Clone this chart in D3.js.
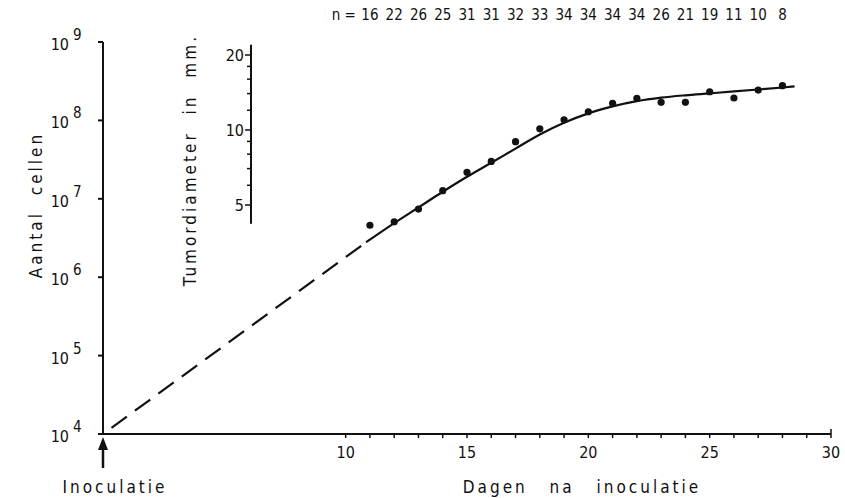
<!DOCTYPE html>
<html>
<head>
<meta charset="utf-8">
<script src="https://cdn.jsdelivr.net/npm/d3@7"></script>
<style>
body { margin: 0; background: #fff; }
svg text { font-family: "Liberation Sans Narrow", "DejaVu Sans Condensed", "Liberation Sans", sans-serif; fill: #111; }
</style>
</head>
<body>
<div id="chart"></div>
<script>
// measured tumour sizes, expressed as number of cells
const days = [11, 12, 13, 14, 15, 16, 17, 18, 19, 20, 21, 22, 23, 24, 25, 26, 27, 28];
const nValues = [16, 22, 26, 25, 31, 31, 32, 33, 34, 34, 34, 34, 26, 21, 19, 11, 10, 8];
const cellCounts = [4.6e6, 5.1e6, 7.4e6, 1.27e7, 2.18e7, 3.0e7, 5.35e7, 7.8e7, 1.02e8,
    1.29e8, 1.65e8, 1.91e8, 1.70e8, 1.70e8, 2.32e8, 1.93e8, 2.44e8, 2.77e8];

// fitted growth curve (solid part) and the extrapolated part (dashed)
const curveDays = [10.84, 12, 13, 14, 15, 16, 17, 18, 19, 20, 21, 22, 23, 24, 25, 26, 27, 28, 28.5];
const curveCells = [2.79e6, 4.9e6, 7.76e6, 1.23e7, 1.91e7, 2.88e7, 4.37e7, 6.61e7, 9.33e7,
    1.23e8, 1.51e8, 1.76e8, 1.95e8, 2.09e8, 2.21e8, 2.34e8, 2.48e8, 2.63e8, 2.72e8];
const dashDays = [0.35, 10.84];
const dashCells = [1.2e4, 2.79e6];

// axes
const cellDecades = [4, 5, 6, 7, 8, 9];
const dayLabels = [10, 15, 20, 25, 30];
const dayMinor = d3.range(10, 31);
const diameterLabels = [5, 10, 20];
const diameterMinor = [6, 7, 8, 9, 12, 14, 16, 18];
const diameterExtent = [4.2, 22];

const W = 845, H = 498;
const svg = d3.select("#chart").append("svg")
    .attr("width", W)
    .attr("height", H);

const x = d3.scaleLinear().domain([0, 30]).range([103, 831]);
const y = d3.scaleLog().domain([1e4, 1e9]).range([434, 42]);
const yd = d3.scaleLog().domain([5, 20]).range([205, 55]);

const ink = "#111";

// spaced-out lettering used for the axis titles
function title(sel, wordSpace) {
    return sel.attr("font-size", 17)
        .attr("letter-spacing", 3)
        .attr("word-spacing", wordSpace);
}

// left axis (cells)
svg.append("line")
    .attr("x1", x(0)).attr("x2", x(0))
    .attr("y1", y(1e9)).attr("y2", y(1e4))
    .attr("stroke", ink).attr("stroke-width", 2);

cellDecades.forEach(p => {
    const yy = y(Math.pow(10, p));
    svg.append("line")
        .attr("x1", x(0) - 5).attr("x2", x(0))
        .attr("y1", yy).attr("y2", yy)
        .attr("stroke", ink).attr("stroke-width", 2);
    svg.append("text")
        .attr("x", 69).attr("y", yy + 8)
        .attr("text-anchor", "end")
        .attr("font-size", 16)
        .text("10");
    svg.append("text")
        .attr("x", 73).attr("y", yy - 2)
        .attr("font-size", 15)
        .text(p);
});

svg.append("text")
    .attr("transform", "translate(42, 205) rotate(-90)")
    .attr("text-anchor", "middle")
    .call(title, 8)
    .text("Aantal cellen");

// bottom axis (days)
svg.append("line")
    .attr("x1", x(0)).attr("x2", x(30))
    .attr("y1", y(1e4)).attr("y2", y(1e4))
    .attr("stroke", ink).attr("stroke-width", 2);

dayMinor.forEach(d => {
    svg.append("line")
        .attr("x1", x(d)).attr("x2", x(d))
        .attr("y1", y(1e4)).attr("y2", y(1e4) + 4)
        .attr("stroke", ink).attr("stroke-width", 1.5);
});
svg.append("line")
    .attr("x1", x(30)).attr("x2", x(30))
    .attr("y1", y(1e4) - 5).attr("y2", y(1e4))
    .attr("stroke", ink).attr("stroke-width", 1.5);

dayLabels.forEach(d => {
    svg.append("text")
        .attr("x", x(d)).attr("y", 458)
        .attr("text-anchor", "middle")
        .attr("font-size", 16)
        .text(d);
});

svg.append("text")
    .attr("x", 582).attr("y", 493)
    .attr("text-anchor", "middle")
    .call(title, 14)
    .text("Dagen na inoculatie");

// inoculation arrow
const ax = x(0);
svg.append("line")
    .attr("x1", ax).attr("x2", ax)
    .attr("y1", 442).attr("y2", 468)
    .attr("stroke", ink).attr("stroke-width", 2.5);
svg.append("path")
    .attr("d", `M${ax},437 L${ax - 5},450 L${ax + 5},450 Z`)
    .attr("fill", ink);
svg.append("text")
    .attr("x", 115).attr("y", 493)
    .attr("text-anchor", "middle")
    .call(title, 0)
    .text("Inoculatie");

// inset axis (tumour diameter)
const dx = 251;
svg.append("line")
    .attr("x1", dx).attr("x2", dx)
    .attr("y1", yd(diameterExtent[1])).attr("y2", yd(diameterExtent[0]))
    .attr("stroke", ink).attr("stroke-width", 2);
diameterLabels.forEach(d => {
    svg.append("line")
        .attr("x1", dx - 6).attr("x2", dx)
        .attr("y1", yd(d)).attr("y2", yd(d))
        .attr("stroke", ink).attr("stroke-width", 1.5);
    svg.append("text")
        .attr("x", dx - 7).attr("y", yd(d) + 6)
        .attr("text-anchor", "end")
        .attr("font-size", 16)
        .text(d);
});
diameterMinor.forEach(d => {
    svg.append("line")
        .attr("x1", dx - 4).attr("x2", dx)
        .attr("y1", yd(d)).attr("y2", yd(d))
        .attr("stroke", ink).attr("stroke-width", 1.5);
});
svg.append("text")
    .attr("transform", "translate(196, 34) rotate(-90)")
    .attr("text-anchor", "end")
    .call(title, 9)
    .text("Tumordiameter in mm.");

// n per day along the top
svg.append("text")
    .attr("x", x(days[0]) - 14).attr("y", 20)
    .attr("text-anchor", "end")
    .attr("font-size", 15)
    .text("n =");
days.forEach((d, i) => {
    svg.append("text")
        .attr("x", x(d)).attr("y", 20)
        .attr("text-anchor", "middle")
        .attr("font-size", 15)
        .text(nValues[i]);
});

// growth curve
const line = d3.line()
    .x(d => x(d[0]))
    .y(d => y(d[1]))
    .curve(d3.curveMonotoneX);

svg.append("path")
    .datum(dashDays.map((d, i) => [d, dashCells[i]]))
    .attr("d", line)
    .attr("fill", "none")
    .attr("stroke", ink)
    .attr("stroke-width", 2.2)
    .attr("stroke-dasharray", "19,10");

svg.append("path")
    .datum(curveDays.map((d, i) => [d, curveCells[i]]))
    .attr("d", line)
    .attr("fill", "none")
    .attr("stroke", ink)
    .attr("stroke-width", 2.2);

svg.selectAll("circle.pt")
    .data(days)
    .join("circle")
    .attr("class", "pt")
    .attr("cx", d => x(d))
    .attr("cy", (d, i) => y(cellCounts[i]))
    .attr("r", 3.6)
    .attr("fill", ink);
</script>
</body>
</html>
